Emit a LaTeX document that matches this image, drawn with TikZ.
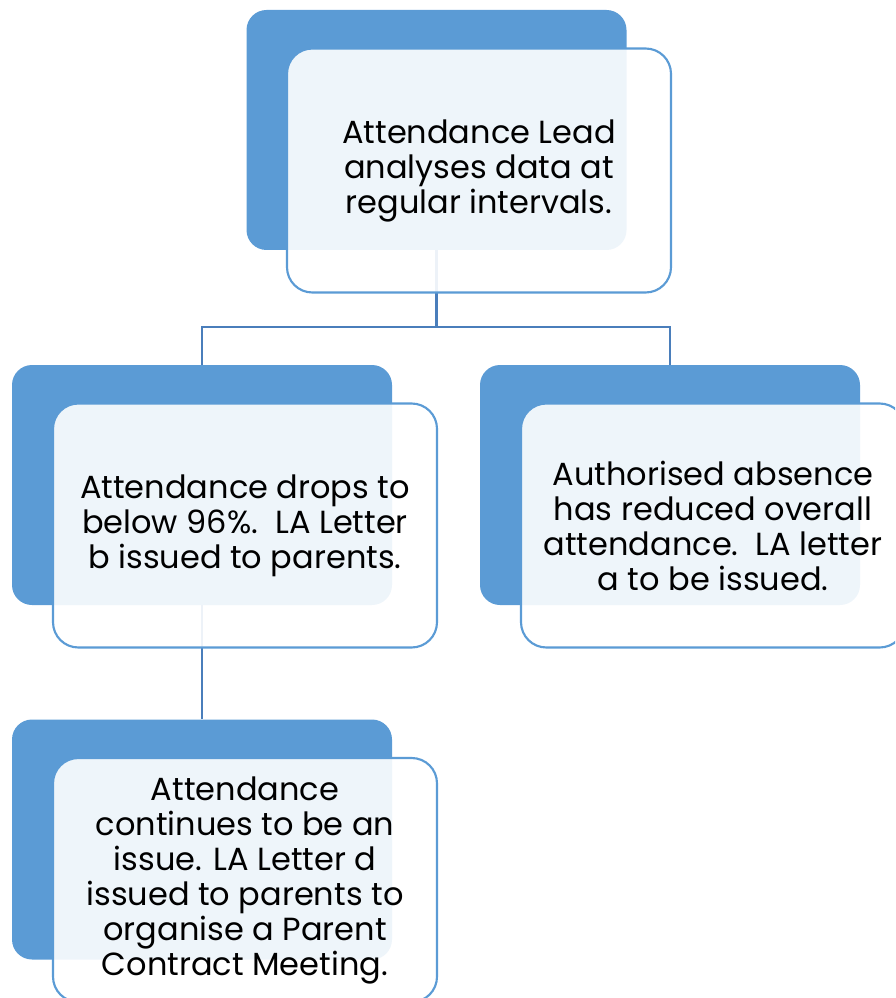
\documentclass[tikz,border=0pt]{standalone}
\usepackage{fontspec}
\setmainfont{Poppins}
\definecolor{backblue}{HTML}{5B9BD5}
\definecolor{lineblue}{HTML}{4A7EBB}
\begin{document}
\begin{tikzpicture}[x=0.75pt,y=-0.75pt,
  backbox/.style={rectangle, rounded corners=15pt, fill=backblue, draw=none,
    minimum width=285pt, minimum height=180pt, inner sep=0pt},
  frontbox/.style={rectangle, rounded corners=19pt, fill=white, fill opacity=0.9,
    text opacity=1, draw=backblue, line width=1.6pt,
    minimum width=288pt, minimum height=183pt, inner sep=0pt, align=center,
    font=\fontsize{24}{26.25}\selectfont},
  conn/.style={draw=lineblue, line width=2.2pt}]
\useasboundingbox (0,0) rectangle (895,998);
\clip (0,0) rectangle (895,998);
% back boxes
\node[backbox] (b1) at (436.5,130) {};
\node[backbox] (b2) at (202,485) {};
\node[backbox] (b3) at (670,485) {};
\node[backbox] (b4) at (202,839.5) {};
% connectors
\coordinate (j) at (436.5,327);
\draw[conn] (b1.south) -- (j);
\draw[conn] (j) -| (b2.north);
\draw[conn] (j) -| (b3.north);
\draw[conn] (b2.south) -- (b4.north);
% front boxes
\node[frontbox] (f1) at (479,170.5) {Attendance Lead\\analyses data at\\regular intervals.};
\node[frontbox] (f2) at (245,525.5) {Attendance drops to\\below 96\%.\ \ LA Letter\\b issued to parents.};
\node[frontbox] (f3) at (713,525.5) {Authorised absence\\has reduced overall\\attendance.\ \ LA letter\\a to be issued.};
\node[frontbox] (f4) at (245,880) {Attendance\\continues to be an\\issue. LA Letter d\\issued to parents to\\organise a Parent\\Contract Meeting.};
\end{tikzpicture}
\end{document}
